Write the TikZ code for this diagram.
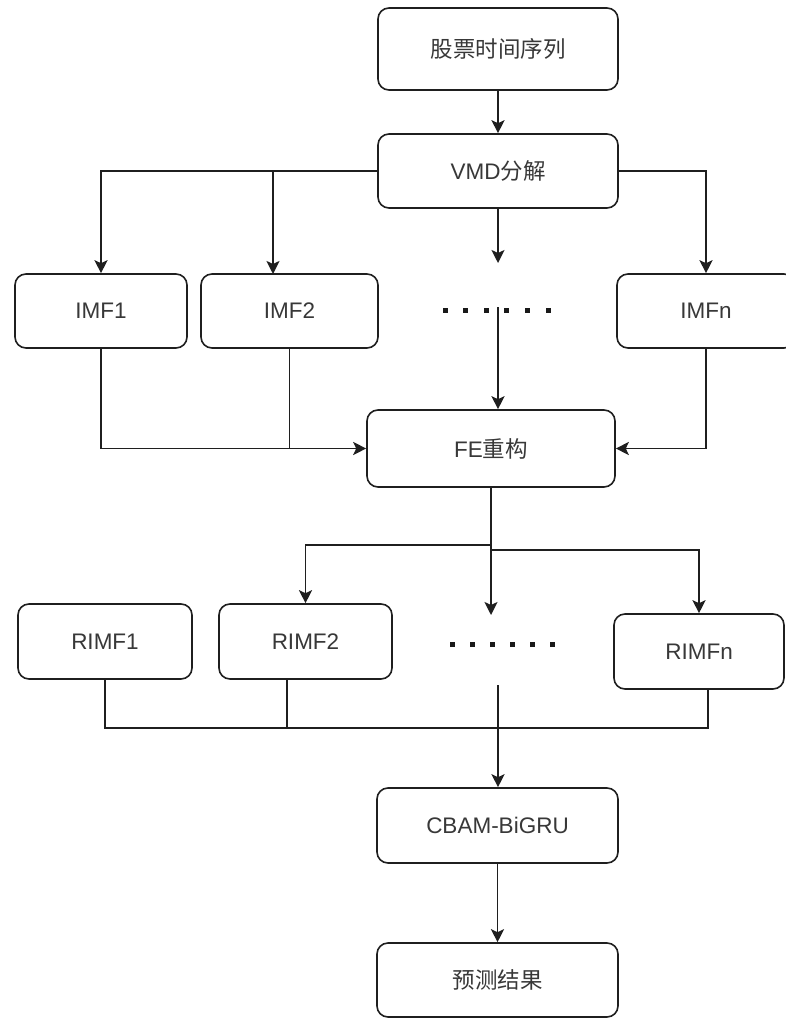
\documentclass[tikz,border=0pt]{standalone}
\usepackage{fontspec}
\setmainfont{Liberation Sans}
\newfontfamily\cjk{Noto Sans CJK SC}
\usetikzlibrary{arrows.meta}
\tikzset{
  box/.style={draw=black!88, line width=1.6pt, rounded corners=11pt, fill=white,
    text=black!78, inner sep=0pt, font=\fontsize{22.5}{27}\selectfont},
  conn/.style={draw=black!88, line width=1.8pt},
  arr/.style={conn, -{Stealth[length=13pt,width=13pt,inset=3pt]}},
  dotsq/.style={fill=black!90}
}
\begin{document}
\begin{tikzpicture}[x=1pt,y=-1pt]
\useasboundingbox (0,0) rectangle (785,1019);
% boxes
\node[box, minimum width=240pt, minimum height=82pt] (src) at (498,49) {\cjk 股票时间序列};
\node[box, minimum width=240pt, minimum height=74pt] (vmd) at (498,171) {VMD{\cjk 分解}};
\node[box, minimum width=172pt, minimum height=74pt] (imf1) at (101,311) {IMF1};
\node[box, minimum width=177pt, minimum height=74pt] (imf2) at (289.5,311) {IMF2};
\node[box, minimum width=178pt, minimum height=74pt] (imfn) at (706,311) {IMFn};
\node[box, minimum width=248pt, minimum height=77pt] (fe) at (491,448.5) {FE{\cjk 重构}};
\node[box, minimum width=174pt, minimum height=75pt] (rimf1) at (105,641.5) {RIMF1};
\node[box, minimum width=173pt, minimum height=75pt] (rimf2) at (305.5,641.5) {RIMF2};
\node[box, minimum width=170pt, minimum height=75pt] (rimfn) at (699,651.5) {RIMFn};
\node[box, minimum width=241pt, minimum height=75pt] (cbam) at (497.5,825.5) {CBAM-BiGRU};
\node[box, minimum width=241pt, minimum height=74pt] (pred) at (497.5,980) {\cjk 预测结果};
% helper coordinates
\coordinate (a2) at (273,274);
\coordinate (m1) at (498,263);
\coordinate (d1) at (498,307);
\coordinate (fl) at (491,545);
\coordinate (fr) at (491,550);
\coordinate (m2) at (491,615);
\coordinate (r2b) at (287,679);
\coordinate (rnb) at (708,689);
\coordinate (m3) at (498,685);
% dots
\foreach \i in {0,...,5} \fill[dotsq] ({445+20.6*\i-2.5},307.5) rectangle ++(5,5);
\foreach \i in {0,...,5} \fill[dotsq] ({452+20*\i-2.5},641.5) rectangle ++(5,5);
% connectors
\draw[arr] (src) -- (vmd);
\draw[arr] (vmd.west) -| (imf1.north);
\draw[arr] (vmd.west) -| (a2);
\draw[arr] (vmd.east) -| (imfn.north);
\draw[arr] (vmd.south -| m1) -- (m1);
\draw[arr] (d1) -- (fe.north -| d1);
\draw[arr] (imf1.south) |- (fe.west);
\draw[conn] (imf2.south) -- (imf2.south |- fe.west);
\draw[arr] (imfn.south) |- (fe.east);
\draw[arr] (fe.south) -- (fl) -| (rimf2.north);
\draw[arr] (fe.south) -- (fr) -| (rimfn.north);
\draw[arr] (fe.south) -- (m2);
\draw[conn] (rimf1.south) |- (rnb |- 0,728) -- (rnb);
\draw[conn] (r2b) -- (r2b |- 0,728);
\draw[arr] (m3) -- (m3 |- cbam.north);
\draw[arr] (cbam) -- (pred);
\end{tikzpicture}
\end{document}
